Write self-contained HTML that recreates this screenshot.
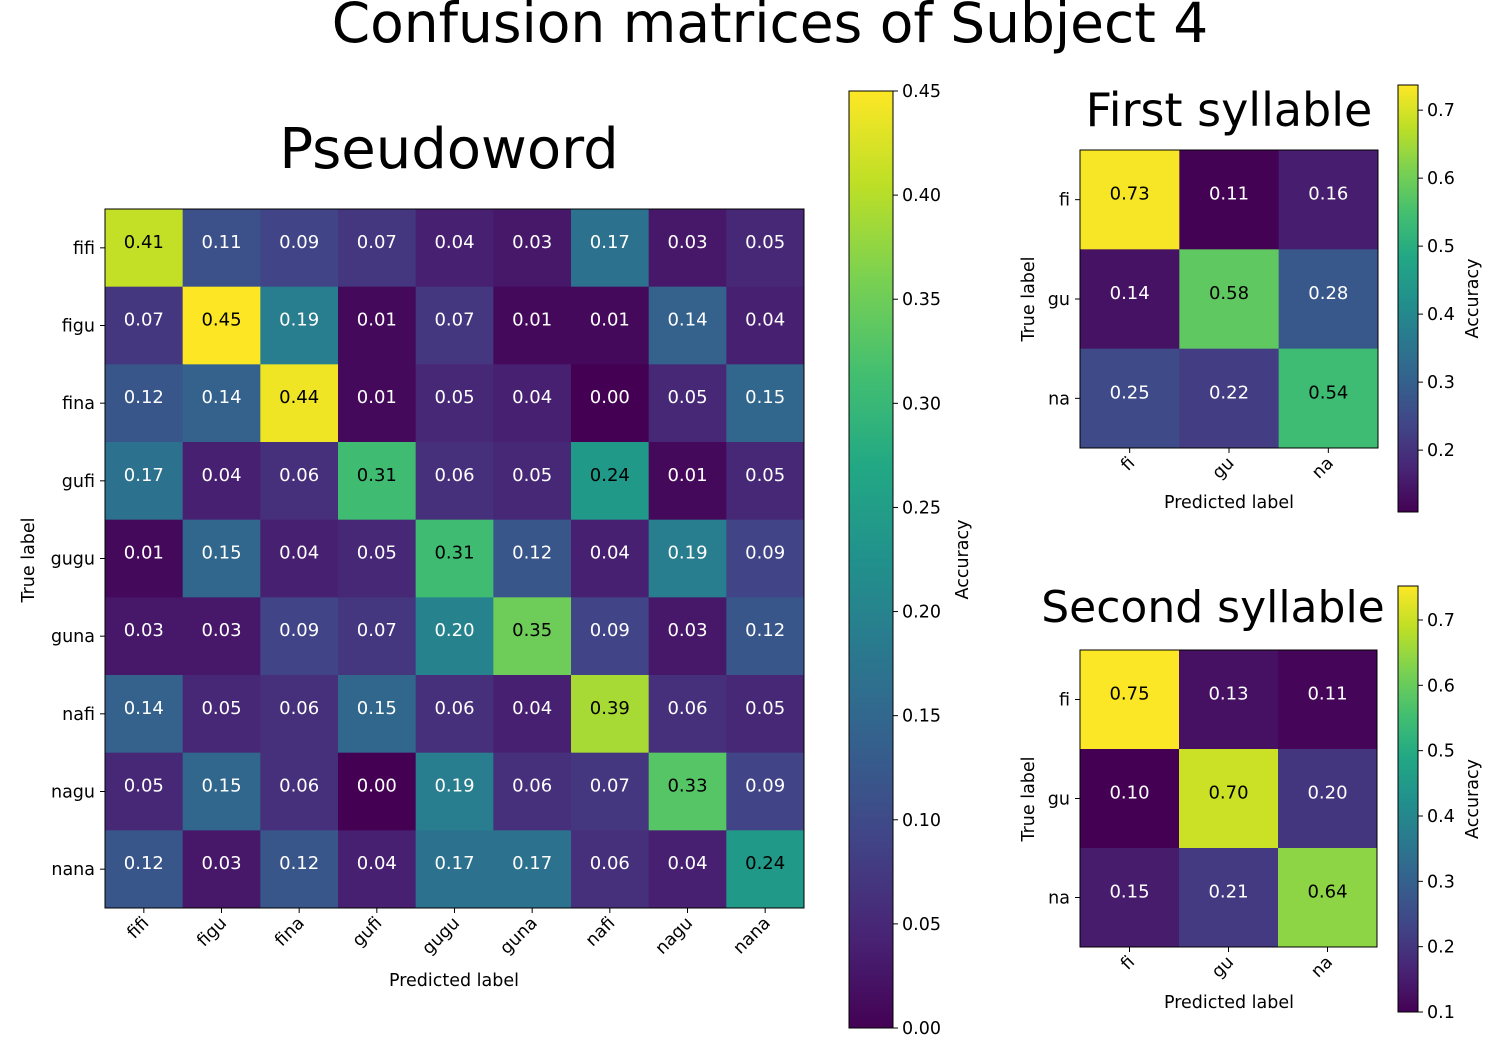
<!DOCTYPE html>
<html><head><meta charset="utf-8"><style>
body{margin:0;background:#fff}
svg{display:block;font-family:"DejaVu Sans","Liberation Sans",sans-serif}
</style></head><body>
<svg id="s" width="1500" height="1061" viewBox="0 0 1500 1061" xmlns="http://www.w3.org/2000/svg">
<rect width="1500" height="1061" fill="#fff"/>
<text x="770" y="42" font-size="55" text-anchor="middle">Confusion matrices of Subject 4</text>
</svg>
<script>
const wordLabels=["fifi","figu","fina","gufi","gugu","guna","nafi","nagu","nana"];
const wordValues=[
[0.41,0.11,0.09,0.07,0.04,0.03,0.17,0.03,0.05],
[0.07,0.45,0.19,0.01,0.07,0.01,0.01,0.14,0.04],
[0.12,0.14,0.44,0.01,0.05,0.04,0.00,0.05,0.15],
[0.17,0.04,0.06,0.31,0.06,0.05,0.24,0.01,0.05],
[0.01,0.15,0.04,0.05,0.31,0.12,0.04,0.19,0.09],
[0.03,0.03,0.09,0.07,0.20,0.35,0.09,0.03,0.12],
[0.14,0.05,0.06,0.15,0.06,0.04,0.39,0.06,0.05],
[0.05,0.15,0.06,0.00,0.19,0.06,0.07,0.33,0.09],
[0.12,0.03,0.12,0.04,0.17,0.17,0.06,0.04,0.24]];
const sylLabels=["fi","gu","na"];
const firstValues=[[0.73,0.11,0.16],[0.14,0.58,0.28],[0.25,0.22,0.54]];
const secondValues=[[0.75,0.13,0.11],[0.10,0.70,0.20],[0.15,0.21,0.64]];
const wordTicks=["0.00","0.05","0.10","0.15","0.20","0.25","0.30","0.35","0.40","0.45"];
const firstTicks=["0.2","0.3","0.4","0.5","0.6","0.7"];
const secondTicks=["0.1","0.2","0.3","0.4","0.5","0.6","0.7"];

const NS="http://www.w3.org/2000/svg",svg=document.getElementById('s');
const V=["#440154","#482475","#414487","#355f8d","#2a788e","#21918c","#22a884","#44bf70","#7ad151","#bddf26","#fde725"];
function hx(c){return [1,3,5].map(i=>parseInt(c.substr(i,2),16));}
function vir(t){t=Math.max(0,Math.min(1,t));const f=t*10,i=Math.min(9,Math.floor(f)),r=f-i;const a=hx(V[i]),b=hx(V[i+1]);return "rgb("+a.map((v,k)=>Math.round(v+(b[k]-v)*r)).join(",")+")";}
function el(tag,at,txt){const e=document.createElementNS(NS,tag);for(const k in at)e.setAttribute(k,at[k]);if(txt!==undefined)e.textContent=txt;svg.appendChild(e);return e;}

function matrix(name,vals,labels,x0,y0,size,vmin,vmax,title,tx,ty,tfs){
  const n=labels.length,cs=size/n;
  const sx=j=>x0+j*cs, sy=i=>y0+i*cs;
  const col=v=>vir((v-vmin)/(vmax-vmin));
  const thr=(vmin+vmax)/2;
  vals.forEach((row,i)=>row.forEach((v,j)=>{
    const r=el('rect',{x:sx(j),y:sy(i),width:cs+0.5,height:cs+0.5,fill:col(v)});
    
    
    const t=el('text',{x:sx(j)+cs/2,y:sy(i)+cs/2,'font-size':18,'text-anchor':'middle',fill:v>thr?'#000':'#fff'},v.toFixed(2));
    
    
  }));
  const f=el('rect',{x:x0,y:y0,width:size,height:size,fill:'none',stroke:'#000','stroke-width':1});
  
  
  labels.forEach((l,k)=>{
    const cy=sy(k)+cs/2, cx=sx(k)+cs/2;
    el('line',{x1:x0-5,y1:cy,x2:x0,y2:cy,stroke:'#000'});
    const a=el('text',{x:x0-10,y:cy+6,'font-size':17.5,'text-anchor':'end'},l);
    
    
    el('line',{x1:cx,y1:y0+size,x2:cx,y2:y0+size+5,stroke:'#000'});
    const b=el('text',{x:cx+6,y:y0+size+16,'font-size':17.5,'text-anchor':'end',transform:'rotate(-45 '+(cx+6)+' '+(y0+size+16)+')'},l);
    
    
  });
  const t=el('text',{x:tx,y:ty,'font-size':tfs,'text-anchor':'middle'},title);
  
  
}
function colorbar(name,x,y,w,h,vmin,vmax,ticks,lx){
  const id='g'+name;
  const d=document.createElementNS(NS,'defs');svg.appendChild(d);
  const g=document.createElementNS(NS,'linearGradient');g.setAttribute('id',id);
  g.setAttribute('x1','0');g.setAttribute('y1','1');g.setAttribute('x2','0');g.setAttribute('y2','0');
  for(let i=0;i<=20;i++){const s=document.createElementNS(NS,'stop');s.setAttribute('offset',i/20);s.setAttribute('stop-color',vir(i/20));g.appendChild(s);}
  d.appendChild(g);
  const r=el('rect',{x:x,y:y,width:w,height:h,fill:'url(#'+id+')',stroke:'#000'});
  
  
  const py=v=>y+h-(v-vmin)/(vmax-vmin)*h;
  ticks.forEach(tk=>{
    const yy=py(parseFloat(tk));
    el('line',{x1:x+w,y1:yy,x2:x+w+5,y2:yy,stroke:'#000'});
    const t=el('text',{x:x+w+9,y:yy+6,'font-size':17.5},tk);
    
    
  });
  const cy=y+h/2;
  const a=el('text',{x:lx,y:cy,'font-size':17.5,'text-anchor':'middle',transform:'rotate(-90 '+lx+' '+cy+')'},'Accuracy');
  
  
}
function axlabels(name,xc,xy,yx,yc){
  const a=el('text',{x:xc,y:xy,'font-size':17.5,'text-anchor':'middle'},'Predicted label');
  
  
  const b=el('text',{x:yx,y:yc,'font-size':17.5,'text-anchor':'middle',transform:'rotate(-90 '+yx+' '+yc+')'},'True label');
  
  
}
matrix('pseudoword',wordValues,wordLabels,105,209,699,0,0.45,'Pseudoword',449,168,56);
axlabels('pseudoword',454,986,34,560);
colorbar('pseudoword',849,91,44,937,0,0.45,wordTicks,968);
matrix('first-syllable',firstValues,sylLabels,1080,150,298,0.109,0.737,'First syllable',1229,126,46);
axlabels('first-syllable',1229,508,1034,299);
colorbar('first-syllable',1398,85,20,427,0.109,0.737,firstTicks,1478);
matrix('second-syllable',secondValues,sylLabels,1080,650,297,0.1,0.752,'Second syllable',1213,622,44);
axlabels('second-syllable',1229,1008,1034,799);
colorbar('second-syllable',1398,586,20,426,0.1,0.752,secondTicks,1478);
</script>
</body></html>
